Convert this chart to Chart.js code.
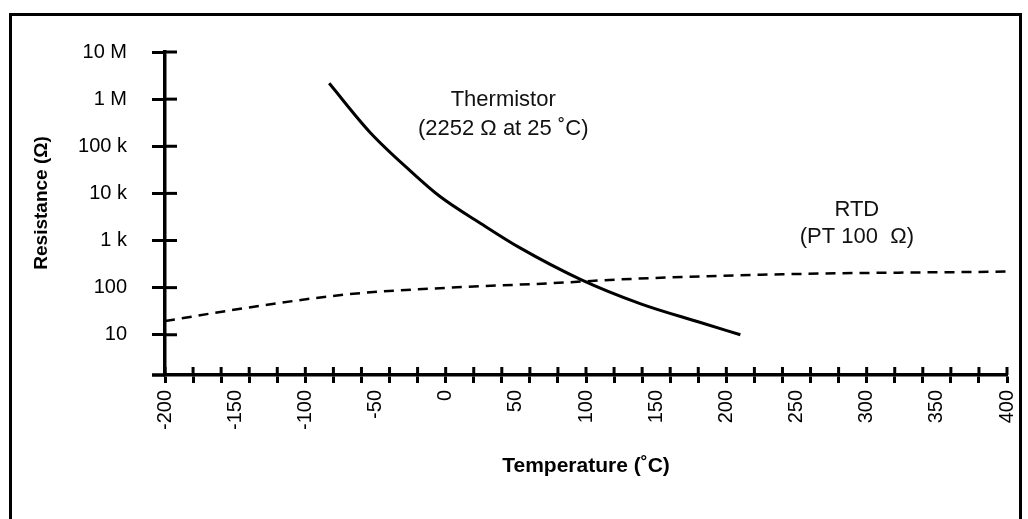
<!DOCTYPE html>
<html>
<head>
<meta charset="utf-8">
<title>Thermistor vs RTD</title>
<script src="https://cdn.jsdelivr.net/npm/chart.js@4/dist/chart.umd.min.js"></script>
<style>
  html, body { margin: 0; padding: 0; background: #fff; }
  #wrap { position: relative; width: 1028px; height: 519px; overflow: hidden; }
  #frame {
    position: absolute; left: 9px; top: 13px; width: 1013px; height: 600px;
    border: 3px solid #000; box-sizing: border-box; pointer-events: none;
  }
  canvas { position: absolute; left: 0; top: 0; }
</style>
</head>
<body>
<div id="wrap">
  <canvas id="chart" width="1028" height="519"></canvas>
  <div id="frame"></div>
</div>
<script>
// ===== data =====
const thermTemps = [-83, -54, -25, -4, 25, 53, 96, 139, 181, 210];
const thermOhms = [2170000, 199000, 29700, 8570, 2300, 696, 150, 45.3, 18.4, 10];

const rtdTemps = [-200, -140, -70, 0, 75, 125, 240, 400];
const rtdOhms = [19.5, 38, 72, 99, 124, 150, 192, 219];

const yTickValues = [10, 100, 1000, 10000, 100000, 1000000, 10000000];
const yTickLabels = ["10", "100", "1 k", "10 k", "100 k", "1 M", "10 M"];

const xMin = -200, xMax = 400;
const xLabelStep = 50;   // labelled every 50
const xMarkStep = 20;    // tick marks every 20

// annotation text, anchored in data coords
const annotations = [
  { t: 41, ohm: 950000, gap: 29, lines: ["Thermistor", "(2252 \u03A9 at 25 \u02DAC)"] },
  { t: 293, ohm: 4450, gap: 27, lines: ["RTD", "(PT 100  \u03A9)"] },
];

const FONT = "'Liberation Sans', Arial, Helvetica, sans-serif";

// ===== inner half of tick marks + labels =====
const extrasPlugin = {
  id: "extras",
  afterDraw(chart) {
    const ctx = chart.ctx;
    const xs = chart.scales.x, ys = chart.scales.y;
    const area = chart.chartArea;
    ctx.save();
    ctx.strokeStyle = "#000";
    ctx.lineWidth = 3;
    ctx.lineCap = "butt";
    // x tick marks, part above the axis
    xs.ticks.forEach((t) => {
      if (t.value % xMarkStep !== 0) return;
      const px = xs.getPixelForValue(t.value);
      ctx.beginPath();
      ctx.moveTo(px, area.bottom);
      ctx.lineTo(px, area.bottom - 8);
      ctx.stroke();
    });
    // y tick marks, part right of the axis
    ys.ticks.forEach((t) => {
      const py = ys.getPixelForValue(t.value);
      ctx.beginPath();
      ctx.moveTo(area.left, py);
      ctx.lineTo(area.left + 12, py);
      ctx.stroke();
    });
    // x axis runs a bit left of the y axis
    ctx.lineWidth = 3.5;
    ctx.beginPath();
    ctx.moveTo(area.left - 13, area.bottom);
    ctx.lineTo(area.left, area.bottom);
    ctx.stroke();

    // annotation text
    ctx.fillStyle = "#111";
    ctx.font = "22px " + FONT;
    ctx.textAlign = "center";
    ctx.textBaseline = "middle";
    annotations.forEach((a) => {
      const px = xs.getPixelForValue(a.t);
      const py = ys.getPixelForValue(a.ohm);
      a.lines.forEach((line, i) => ctx.fillText(line, px, py + i * a.gap));
    });
    ctx.restore();
  },
};

new Chart(document.getElementById("chart"), {
  type: "scatter",
  data: {
    datasets: [
      {
        label: "Thermistor",
        data: thermTemps.map((t, i) => ({ x: t, y: thermOhms[i] })),
        showLine: true,
        borderColor: "#000",
        borderWidth: 3,
        pointRadius: 0,
        cubicInterpolationMode: "monotone",
      },
      {
        label: "RTD",
        data: rtdTemps.map((t, i) => ({ x: t, y: rtdOhms[i] })),
        showLine: true,
        borderColor: "#000",
        borderWidth: 2.5,
        borderDash: [10, 7],
        pointRadius: 0,
        cubicInterpolationMode: "monotone",
      },
    ],
  },
  options: {
    responsive: false,
    animation: false,
    layout: { padding: { left: 0, top: 52, right: 21, bottom: 0 } },
    plugins: { legend: { display: false }, tooltip: { enabled: false } },
    scales: {
      x: {
        type: "linear",
        min: xMin,
        max: xMax,
        afterBuildTicks: (scale) => {
          const ticks = [];
          for (let v = xMin; v <= xMax; v += 10) ticks.push({ value: v });
          scale.ticks = ticks;
        },
        afterFit: (scale) => {
          scale.height = 519 - 375;
          // the last rotated label needs no extra room on the right
          scale.paddingLeft = 0;
          scale.paddingRight = 0;
        },
        ticks: {
          autoSkip: false,
          minRotation: 90,
          maxRotation: 90,
          padding: 7,
          color: "#000",
          font: { family: FONT, size: 20 },
          callback: (v) => (v % xLabelStep === 0 ? String(v) : ""),
        },
        grid: {
          drawOnChartArea: false,
          tickLength: 8,
          tickWidth: 3,
          tickColor: (ctx) => (ctx.tick && ctx.tick.value % xMarkStep === 0 ? "#000" : "rgba(0,0,0,0)"),
        },
        border: { display: true, color: "#000", width: 3.5 },
        title: {
          display: true,
          text: "Temperature (\u02DAC)",
          color: "#000",
          font: { family: FONT, size: 21, weight: "bold" },
          padding: { top: 0, bottom: 40 },
        },
      },
      y: {
        type: "logarithmic",
        min: 1.4,
        max: 10000000,
        afterBuildTicks: (scale) => {
          scale.ticks = yTickValues.map((v) => ({ value: v }));
        },
        afterFit: (scale) => { scale.width = 165; },
        ticks: {
          autoSkip: false,
          padding: 25,
          color: "#000",
          font: { family: FONT, size: 20 },
          callback: (v, i) => yTickLabels[i],
        },
        grid: {
          drawOnChartArea: false,
          tickLength: 13,
          tickWidth: 3,
          tickColor: "#000",
        },
        border: { display: true, color: "#000", width: 3.5 },
        title: {
          display: true,
          // leading spaces nudge the rotated title up a little
          text: "\u00A0\u00A0\u00A0\u00A0Resistance (\u03A9)",
          color: "#000",
          font: { family: FONT, size: 19, weight: "bold" },
          padding: { top: 30, bottom: 0 },
        },
      },
    },
  },
  plugins: [extrasPlugin],
});
</script>
</body>
</html>
